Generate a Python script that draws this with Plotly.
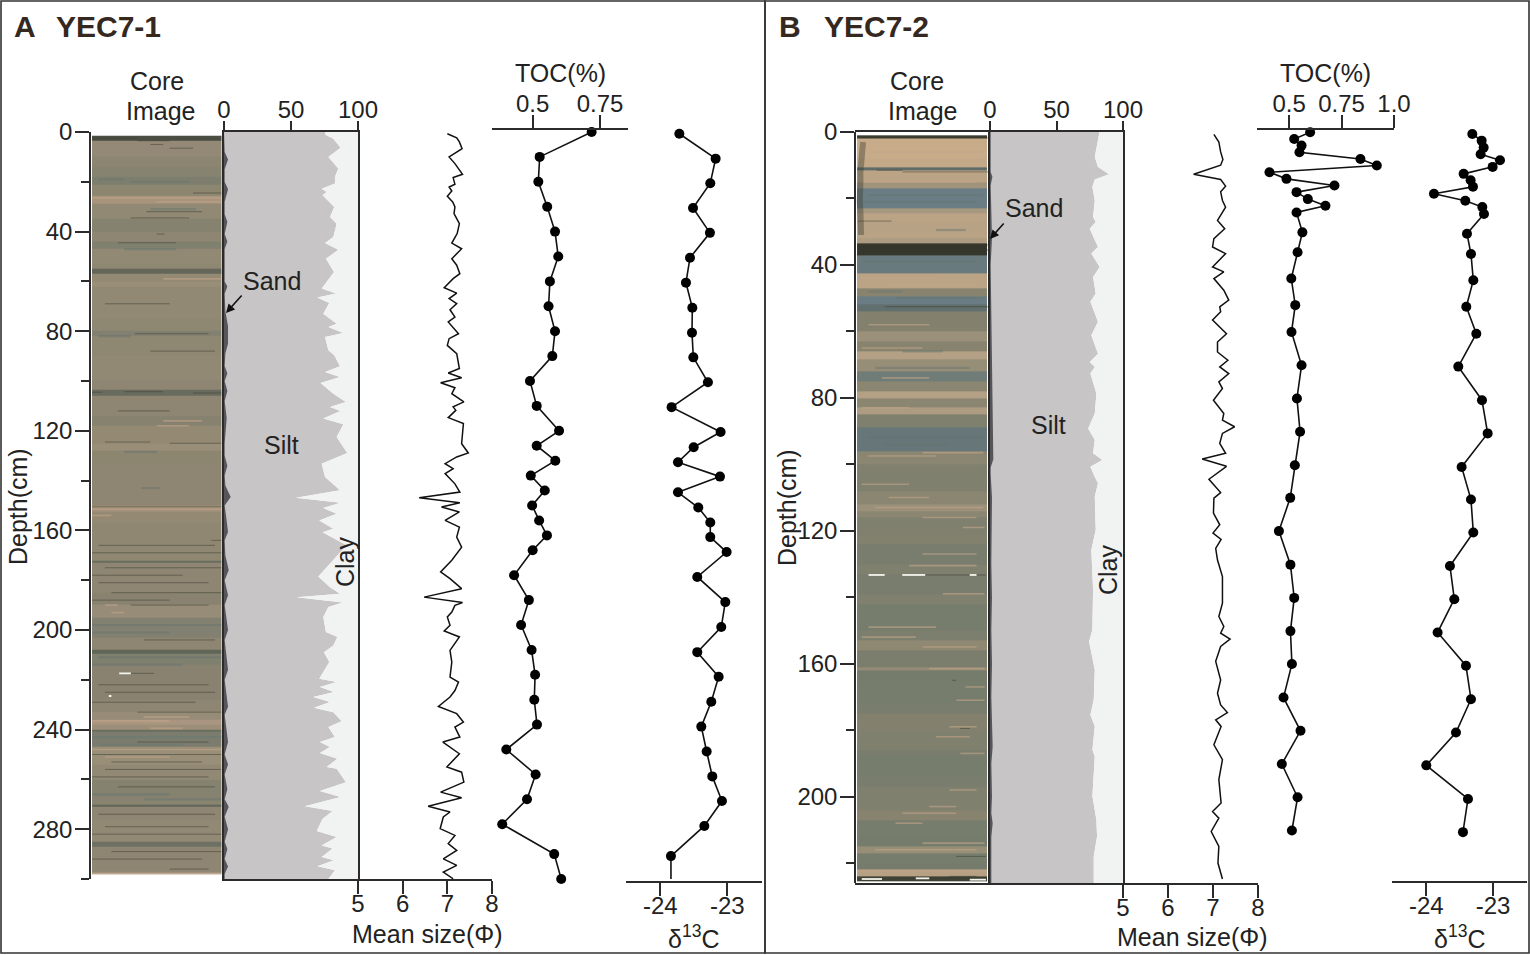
import plotly.graph_objects as go

W, H = 1530, 955
FONT = "Liberation Sans, Arial, sans-serif"
INK = "#222222"
LINE = "#2b2b2b"
SILT = "#c8c5c6"
CLAY = "#f1f2f2"
SAND = "#55555a"

# ---------- Panel A (YEC7-1) ----------
a_toc_depth = [0,10,20,30,40,50,60,70,80,90,100,110,120,126,132,138,144,150,156,162,168,178,188,198,208,218,228,238,248,258,268,278,290,300]
a_toc = [.719,.526,.521,.554,.583,.595,.564,.559,.583,.573,.490,.515,.598,.515,.584,.493,.545,.498,.524,.553,.50,.431,.486,.457,.496,.509,.506,.516,.402,.511,.479,.387,.580,.606]

a_d13c_depth = [.7,10.7,20.6,30.5,40.5,50.5,60.5,70.6,80.6,90.5,100.5,110.5,120.5,126.6,132.6,138.4,144.7,150.8,156.8,162.7,168.7,178.7,188.8,198.8,208.9,218.8,228.8,238.8,248.8,258.8,268.7,278.7,290.8,300.8]
a_d13c = [-23.716,-23.174,-23.254,-23.512,-23.259,-23.557,-23.617,-23.522,-23.527,-23.507,-23.289,-23.831,-23.1,-23.502,-23.736,-23.109,-23.736,-23.433,-23.254,-23.254,-23.01,-23.448,-23.03,-23.09,-23.448,-23.129,-23.239,-23.388,-23.308,-23.224,-23.08,-23.343,-23.841,-23.841]

a_mean_depth = [.7,2.3,4,6.7,10,12.7,17,18.3,21,22.1,23.7,25.8,28.1,30.1,32.8,36.8,40.8,44.6,46.9,50.9,53.5,56.9,58.9,62.5,64.7,66.9,68.9,71.4,74.3,76.3,81,83,85.7,89,95,96.8,98.7,100.7,102.7,105.1,108.4,110.4,111.8,114.7,117.1,125.2,128.9,130.5,133.2,135.2,
                137.2,141.3,144.6,146.9,148.9,150.6,152.6,156,158.7,162.7,166.7,172,176.7,179.4,183.4,186.8,189,190.1,192.8,194.8,198.1,200.4,202.8,208.2,212.9,218.9,220.9,224.3,226.9,230.7,233.6,237,239,243,245,249.7,255,257.1,261.1,265.1,267.4,270.8,273.1,275.1,279.8,282.5,285.8,288.5,291.9,294.5,297.2,299.9]
a_mean = [7,7.21,7.27,7.33,7.04,7.17,7.34,7.13,7.17,7.04,7.1,7,7.12,7.17,7.15,7.27,7.22,7.1,7.32,7.1,7.21,7.28,7.13,6.93,7.21,7.04,7.21,7.06,7.17,7.02,7.25,7.04,7,7.21,7.27,7.02,7.32,6.85,7.17,7.1,7.37,7.13,7.19,7.02,7.36,7.32,7.47,7.21,6.95,7.13,
          6.95,7.17,7.28,6.37,7.28,6.87,7.27,6.95,7.27,7.21,7.32,7.1,6.85,7.06,7.32,6.48,7.34,7.17,7.1,7,7.06,6.93,7.27,7.06,7.1,7.06,7.25,7.17,7.06,6.8,7.21,7.36,7.17,7.28,6.9,7.27,6.99,7.32,7.37,6.85,7.32,6.57,7.06,6.91,6.84,7.17,7.02,7.21,6.91,7.21,6.91,7.13]

a_silt_depth = [0,1,2.7,6.3,10,14.7,18,20.7,22.8,24.1,25.4,30.1,34.1,36.8,42.2,44.6,47.3,50.9,56.2,62.9,64.9,66.5,68.7,73,77,78.3,80.7,82.3,87.7,89.7,94.1,96.4,98.4,100.8,105.1,108.4,110.4,112,115.1,117.4,122.5,128.9,133.2,138.6,
                143.9,146.9,148.9,151,153.3,156,159.3,160.7,166,172,178.5,182.8,185.4,186.8,189,190.8,194.8,200.8,202.8,206.2,208.9,212.9,219.6,220.9,222.9,224.9,226.9,228.9,231.2,233,236.6,239,243,245,247,249.4,251.7,255,255.7,261.1,264.7,267.1,270.8,272.7,275.8,280.7,283.1,286.5,287.8,291.2,292.5,294.9,296.5,300]
a_silt = [75.4,75.4,81.6,87,77.9,85.3,82.8,82.8,72.9,76.6,73.6,82.3,79.1,84.1,81.6,75.4,85.3,76.1,82.1,72.9,83.6,69.7,78.6,74.1,84.1,77.9,89.1,75.4,77.9,82.3,86.6,75.4,86.6,72.1,81.6,91,79.1,87,74.1,89.1,84.1,92,72.9,75.4,
          86.6,53.7,87,74.1,84.1,71.1,81.6,73.6,91.5,81.6,70.4,79.1,86.6,54.2,88.6,77.9,74.1,76.1,84.6,81.6,74.6,78.6,71.1,84.1,71.6,82.1,66.7,79.1,67.2,81.6,87.8,77.9,82.8,71.6,79.1,71.6,84.6,76.6,84.1,91,71.6,87,60.4,81.1,73.6,69.2,84.1,72.9,81.1,72.9,82.1,69.7,82.8,77.9]

a_sand_depth = [0,8,11,15,20,23,28,33,36,41,44,47,60,62,65,72,78,85,89,94,97,100,104,108,115,125,130,134,138,142,146.6,150,154,160.6,164,170,176,180,186,190,200,204,216,220,230.8,234,245,250,254,258,264,268,271,275,280,285,288,292,295,298,300]
a_sand = [0,.5,3,.5,.5,3,.5,.5,2.5,.5,2.5,.5,.5,2.5,.5,1,3,3,1,.5,2.5,.5,2.5,.5,2,.5,.5,2.5,.5,1,5,.5,1.5,3,.5,1,3.5,.5,3,.5,3,.5,3,.5,3,.5,3,.5,3,.5,2.5,.5,3.5,.5,3,.5,2.5,.5,3,.5,.5]

a_core_edges = [1.5,3.5,10,14,18,21,25.5,29,35,40,44,47,53,55,57,60,62,75,80,82,90,100,103.5,106,114,118,125,128,133,150,151,152.5,157,172,173,185,190,195,203,208,209.5,214,222,228,233,236,238,240,241,247,254,260,267,270,271,276,285,287,297,298]
a_core_tone = [.18,.66,.6,.56,.5,.6,.82,.66,.56,.62,.52,.66,.63,.34,.68,.72,.66,.63,.54,.63,.66,.62,.37,.62,.57,.68,.72,.6,.62,.84,.78,.68,.64,.38,.62,.58,.7,.54,.62,.32,.52,.58,.58,.62,.7,.84,.74,.38,.5,.72,.66,.56,.58,.32,.62,.65,.4,.62,.76]

a_dark_streaks = [(2.5,1,35),(3.5,35,60),(5,45,55),(6.5,60,78),(24.5,78,100),(32,42,85),(34.5,30,75),(41,50,56),(44.5,20,65),(69,10,60),(81,33,90),(88,45,95),(104.5,0,8),(104.3,25,55),(104.8,78,100),(112,20,60),(124.5,10,45),(125,60,100),
                  (150.5,0,100),(164,92,100),(166,5,95),(169,0,100),(175,10,100),(178,0,70),(181,5,90),(185,15,100),(188,0,60),(190,30,90),(204,40,95),(217.4,30,48),(222,5,90),(225,10,95),(229,0,80),(233,35,100),(245,35,90),(250,0,100),(253,15,85),(256,10,100),(259,0,90),(263,20,95),(274,5,95),(279,10,90),(282,0,100),(289,15,100),(292,0,85),(296,60,90)]
a_green_streaks = [(20,30,75),(19,5,25),(31,45,80),(47,25,65),(82,5,30),(128.5,25,50),(143,38,52),(198,0,100),(201,0,60),(211,5,100),(214,0,70),(243,0,100),(246,5,70),(266,0,60),(268,40,100)]
a_tan_streaks = [(26.5,0,100),(28,50,100),(59,55,100),(116,55,85),(118,50,75),(151.5,0,100),(154,0,15),(190,10,20),(193,15,25),(235,40,75),(236.5,0,60),(239.5,45,70),(248,0,100),(251,10,60),(298,0,100)]
a_white_streaks = [(217.4,21,30),(226.5,13,15)]

# ---------- Panel B (YEC7-2) ----------
b_toc_depth = [.1,2.1,4.1,6.1,8.1,10.1,12.1,14.1,16.1,18.1,20.2,22.2,24.2,30.2,36.2,44.1,52.1,60.2,70.2,80.2,90.2,100.3,110.1,120.1,130.2,140.2,150.2,160.1,170.2,180.2,190.2,200.2,210.2]
b_toc = [.60,.524,.559,.549,.84,.918,.406,.487,.716,.535,.589,.673,.535,.563,.54,.51,.529,.511,.559,.537,.552,.527,.505,.451,.506,.524,.506,.513,.473,.554,.465,.54,.513]

b_d13c_depth = [.6,2.6,4.7,6.7,8.5,10.5,12.6,14.5,16.5,18.6,20.7,22.6,24.7,30.6,36.7,44.6,52.6,60.7,70.6,80.7,90.7,100.8,110.6,120.5,130.6,140.6,150.6,160.6,170.7,180.7,190.6,200.7,210.7]
b_d13c = [-23.31,-23.17,-23.14,-23.185,-22.895,-23.005,-23.44,-23.335,-23.3,-23.885,-23.415,-23.16,-23.135,-23.39,-23.33,-23.295,-23.4,-23.25,-23.52,-23.165,-23.08,-23.47,-23.33,-23.295,-23.645,-23.58,-23.83,-23.405,-23.33,-23.555,-24.0,-23.375,-23.45]

b_mean_depth = [.7,3,6,8.3,10,12.7,14.3,16.3,18,20.6,22.6,26.6,29.1,32.1,34.6,36.6,40.6,42.1,44.1,47.6,50.6,52.6,54.1,56.6,60.7,63.2,66.2,68.7,70.7,72.7,75.2,77.2,80.7,84.7,86.7,88.7,90.7,93.7,96.7,98.4,100.6,104.5,
                108.5,110.2,114.7,118.2,120.7,122.6,125.3,128.8,133.8,141.8,145.8,148.8,150.8,152.6,154.8,159.3,164.9,168.9,172.4,174.7,176.9,178.9,184.4,188.9,194.9,201.9,204.5,206.5,210.5,215,220,224.8]
b_mean = [7.02,7.13,7.17,7.22,7.17,6.57,7.17,7.28,7.17,7.21,7.28,7.1,7.26,7.02,6.99,7.28,6.99,7.24,7.02,7.24,7.35,7.15,7.17,6.99,7.3,7.1,7.1,7.33,7.15,7.35,7.13,7.21,7.01,7.24,7.21,7.48,7.21,7.15,7.28,6.76,7.3,6.91,
          7.17,7.02,7.01,7.15,7,7.18,7.06,7.1,7.21,7.21,7.13,7.24,7.17,7.38,7.17,7.06,7.17,7.1,7.17,7.32,7.06,7.18,7.02,7.21,7.13,7.18,6.99,7.13,6.96,7.13,7.11,7.21]

b_silt_depth = [0,.7,7.5,10.5,12.7,14.3,16.5,20.6,25.6,27.1,29.1,34.6,36.6,40.6,43.6,48.6,51.1,57.1,61.2,66.7,69.2,70.7,72.7,78.7,84.7,89.2,92.7,96.7,98.7,100.7,103.8,105.7,109.7,119.7,125.8,137.8,149.8,153.3,161.9,170.9,175.4,178.9,185.9,187.9,199.9,207,212,218,226]
b_silt = [82,82,78.8,81.2,89.5,78.8,77,78.8,77.5,79.5,75,81.2,76.2,82.5,77.5,79.5,75.5,81.2,76.2,81.2,75,78.8,75.5,80,78.8,73.8,78.8,77.5,84.5,75.5,78.8,81.2,78.8,79.5,76.2,77.5,77,74.5,78.8,78,75.5,78.8,77,78.8,77,80,80.5,78,78]

b_sand_depth = [0,12,13.5,16,24,32,40,60,72,98.5,101,103,110,120,130,140,150,160,170,185,190,200,205,208,212,226]
b_sand = [.5,.5,1.8,.5,1,1.5,.5,1.2,1.2,2.5,.5,.5,1.5,1,1,1.5,1,1.5,1,2,1,1.5,1,2,1,1]

b_core_edges = [1,2,8,10.5,11.5,15,17,23,24.5,27,32,33.5,37,42.6,47,49.5,52,54,60,63,66,68.5,72,75,78,80,83,85,89,96,100,108,112,114,116,121,124,130,133,139,142,150,153,156,161,162,165,172,175,180,186,188,194,197,204,207,212,215,217,220,222,224,225.5]
b_core_tone = [.08,.96,.93,.3,.88,.72,.4,.76,.88,.86,.8,.06,.38,.88,.6,.4,.32,.58,.7,.6,.84,.68,.45,.62,.84,.62,.8,.56,.36,.62,.56,.62,.7,.62,.56,.57,.53,.56,.53,.56,.52,.55,.64,.54,.66,.51,.52,.53,.58,.56,.53,.52,.53,.56,.6,.52,.51,.68,.52,.51,.85,.1]

b_dark_streaks = [(1.8,2,100),(11.5,16,35),(12,35,100),(26.8,2,27),(34,2,100),(35.5,2,100),(36.5,5,95),(52.6,22,100),(133.3,52,85),(133.3,90,97),(165,72,75),(179.5,78,85),(218,75,97),(224.5,30,97),(224,70,90)]
b_edge_depth = [3,6,9,12,15,18,21,24,28,31]
b_edge_x = [6,5,4.5,4,4,3.5,3.5,4,4.5,4.5]
b_blue_streaks = [(29.5,60,82),(48,10,35),(50,30,95),(66,35,65),(71,15,85),(92,10,95),(94,20,70),(19,10,95),(21,5,90),(39,5,90)]
b_tan_streaks = [(6,10,95),(15,5,90),(31,10,95),(44,5,60),(46,20,90),(58,10,55),(65,5,50),(74,20,55),(83,5,40),(96.5,50,95),(97.5,10,60),(106,5,40),(110,25,55),(113,15,95),(116,50,90),(119,80,96),(127,50,90),(130.5,40,90),(139,65,96),(149,10,60),(152,5,45),(155,50,90),(161.5,55,96),(167,82,96),(171,75,96),(179,70,90),(182,60,85),(187,78,96),(198,70,90),(203,55,75),(205,35,75),(208,30,50),(214,50,96),(216,15,90),(222.5,2,97)]
b_white_streaks = [(133.3,10,22),(133.3,35,52),(133.3,85,90),(224.8,5,20),(224.6,45,55),(225,85,97)]

# colour ramps for the two core photographs
core_scale_a = [[0,"#2c2c22"],[.3,"#5f6457"],[.5,"#7e7f70"],[.6,"#8c8572"],[.7,"#978c78"],[.9,"#b49c84"],[1,"#c2a68c"]]
core_scale_b = [[0,"#24241a"],[.15,"#4f5144"],[.3,"#5f6c68"],[.4,"#6b7d84"],[.5,"#737b6c"],[.6,"#87836f"],[.75,"#a5977f"],[1,"#cfb08c"]]

# ---------- Layout geometry ----------
def dom(p0, p1):
    return [p0 / W, p1 / W]
def ydom(top, bottom):
    return [1 - bottom / H, 1 - top / H]
def ypos(p):
    return 1 - p / H

ax_font = dict(family=FONT, size=24, color=INK)
line = dict(showline=True, linecolor=LINE, linewidth=1.5, showgrid=False, zeroline=False, tickcolor=LINE, tickwidth=1.5, tickfont=ax_font, automargin=False)

fig = go.Figure()

def streaks(pts, color, width, xa, ya, opacity=.85):
    xs, ys = [], []
    for d, x0, x1 in pts:
        xs += [x0, x1, None]
        ys += [d, d, None]
    fig.add_trace(go.Scatter(x=xs, y=ys, mode="lines", line=dict(color=color, width=width), opacity=opacity, xaxis=xa, yaxis=ya, hoverinfo="skip", showlegend=False))

def panel(scale, core_e, core_t, core_x, dark, mid, tan, white, silt_d, silt, sand_d, sand, mean_d, mean, toc_d, toc, d_d, d13, ax):
    xc, xs, xm, xt, xd = ax
    fig.add_trace(go.Heatmap(x=core_x, y=core_e, z=[[t] for t in core_t], colorscale=scale, zmin=0, zmax=1, showscale=False, xaxis=xc, yaxis=ya_depth, hoverinfo="skip"))
    streaks(mid, "#65756f", 2.2, xc, ya_depth, .45)
    streaks(tan, "#c2a488", 1.6, xc, ya_depth, .6)
    streaks(dark, "#3a3c30", 1.0, xc, ya_depth, .5)
    streaks(white, "#f4f4ee", 1.8, xc, ya_depth, 1)
    fig.add_trace(go.Scatter(x=silt, y=silt_d, mode="lines", line=dict(width=0, color=SILT), fill="tozerox", fillcolor=SILT, xaxis=xs, yaxis=ya_box, hoverinfo="skip", showlegend=False))
    fig.add_trace(go.Scatter(x=[100] * len(silt_d), y=silt_d, mode="lines", line=dict(width=0, color=CLAY), fill="tonextx", fillcolor=CLAY, xaxis=xs, yaxis=ya_box, hoverinfo="skip", showlegend=False))
    fig.add_trace(go.Scatter(x=sand, y=sand_d, mode="lines", line=dict(width=0, color=SAND), fill="tozerox", fillcolor=SAND, xaxis=xs, yaxis=ya_box, hoverinfo="skip", showlegend=False))
    fig.add_trace(go.Scatter(x=mean, y=mean_d, mode="lines", line=dict(color="#111111", width=1.5), xaxis=xm, yaxis=ya_depth, hoverinfo="skip", showlegend=False, cliponaxis=False))
    for vals, dep, xa in ((toc, toc_d, xt), (d13, d_d, xd)):
        fig.add_trace(go.Scatter(x=vals, y=dep, mode="lines+markers", line=dict(color="#111111", width=1.6), marker=dict(color="#000000", size=10), xaxis=xa, yaxis=ya_depth, hoverinfo="skip", showlegend=False, cliponaxis=False))

ya_depth, ya_box = "y", "y2"
panel(core_scale_a, a_core_edges, a_core_tone, [0, 100], a_dark_streaks, a_green_streaks, a_tan_streaks, a_white_streaks,
      a_silt_depth, a_silt, a_sand_depth, a_sand, a_mean_depth, a_mean, a_toc_depth, a_toc, a_d13c_depth, a_d13c, ("x", "x2", "x3", "x4", "x5"))
ya_depth, ya_box = "y3", "y4"
panel(core_scale_b, b_core_edges, b_core_tone, [1.5, 97.5], b_dark_streaks, b_blue_streaks, b_tan_streaks, b_white_streaks,
      b_silt_depth, b_silt, b_sand_depth, b_sand, b_mean_depth, b_mean, b_toc_depth, b_toc, b_d13c_depth, b_d13c, ("x6", "x7", "x8", "x9", "x10"))
fig.add_trace(go.Scatter(x=b_edge_x, y=b_edge_depth, mode="lines", line=dict(color="#3a3c30", width=6), opacity=.4, xaxis="x6", yaxis="y3", hoverinfo="skip", showlegend=False))

ya = ydom(132, 879)
yb = ydom(132, 883)
hide = dict(showline=False, showticklabels=False, ticks="", showgrid=False, zeroline=False, automargin=False)

def depth_axis(rng, dom_, xpos, vals):
    return dict(line, domain=dom_, range=rng, anchor="free", position=xpos / W, side="left", ticks="outside", ticklen=14, ticklabelstandoff=-2,
                tickmode="array", tickvals=vals, ticktext=[str(v) for v in vals],
                minor=dict(tickmode="array", tickvals=[v + 20 for v in vals], ticks="outside", ticklen=8, tickcolor=LINE, tickwidth=1.5))
def box_y(rng, dom_, anchor):
    return dict(domain=dom_, range=rng, anchor=anchor, showline=True, linecolor=LINE, linewidth=1.5, mirror=True, ticks="", showticklabels=False, showgrid=False, zeroline=False, automargin=False)
def comp_x(px, anchor):
    return dict(line, domain=dom(*px), range=[0, 100], anchor=anchor, side="top", ticks="outside", ticklen=9, mirror=True, ticklabelstandoff=-6,
                tickmode="array", tickvals=[0, 50, 100], ticktext=["0", "50", "100"])
def free_x(px, rng, y, side, vals, labels, standoff):
    return dict(line, domain=dom(*px), range=rng, anchor="free", position=ypos(y), side=side, ticks="outside", ticklen=13, ticklabelstandoff=standoff,
                tickmode="array", tickvals=vals, ticktext=labels)

layout = dict(
    width=W, height=H, margin=dict(l=0, r=0, t=0, b=0), paper_bgcolor="white", plot_bgcolor="white", showlegend=False, autosize=False,
    xaxis=dict(hide, domain=dom(92, 221.5), range=[0, 100], anchor="y"),
    xaxis2=comp_x((224, 358), "y2"),
    xaxis3=free_x((358, 492), [5, 8], 880, "bottom", [5, 6, 7, 8], ["5", "6", "7", "8"], -11),
    xaxis4=free_x((492, 628), [.349, .854], 129, "top", [.5, .75], ["0.5", "0.75"], -6),
    xaxis5=free_x((626, 762), [-24.512, -22.482], 882, "bottom", [-24, -23], ["-24", "-23"], -11),
    xaxis6=dict(line, domain=dom(855, 990), range=[0, 100], anchor="y3", ticks="", showticklabels=False, mirror=True),
    xaxis7=comp_x((990, 1123), "y4"),
    xaxis8=free_x((1123, 1258), [5, 8], 884, "bottom", [5, 6, 7, 8], ["5", "6", "7", "8"], -11),
    xaxis9=free_x((1257, 1394), [.3465, 1.0], 129, "top", [.5, .75, 1.0], ["0.5", "0.75", "1.0"], -6),
    xaxis10=free_x((1392, 1527), [-24.514, -22.49], 882, "bottom", [-24, -23], ["-24", "-23"], -11),
    yaxis=depth_axis([300, 0], ya, 90, [0, 40, 80, 120, 160, 200, 240, 280]),
    yaxis2=box_y([300, 0], ya, "x2"),
    yaxis3=depth_axis([226, 0], yb, 855, [0, 40, 80, 120, 160, 200]),
    yaxis4=box_y([226, 0], yb, "x7"),
)
fig.update_layout(**layout)

# ---------- Text ----------
def txt(s, x, y, size=25, bold=False, color=INK, angle=0):
    fig.add_annotation(text=f"<b>{s}</b>" if bold else s, x=x / W, y=ypos(y), xref="paper", yref="paper", showarrow=False, xanchor="center", yanchor="middle",
                       font=dict(family=FONT, size=size, color=color), textangle=angle)

TITLE = "#35281e"
txt("A", 25, 26, 30, True, TITLE); txt("YEC7-1", 108, 26, 30, True, TITLE)
txt("B", 790, 26, 30, True, TITLE); txt("YEC7-2", 877, 26, 30, True, TITLE)
for s, x, y in (("Core", 157, 81), ("Image", 160, 111), ("Core", 917, 81), ("Image", 922, 111), ("TOC(%)", 560, 73), ("TOC(%)", 1325, 73),
                ("Mean size(Φ)", 427, 934), ("Mean size(Φ)", 1192, 937), ("δ<sup>13</sup>C", 693, 937), ("δ<sup>13</sup>C", 1459, 937),
                ("Sand", 272, 281), ("Silt", 281, 445), ("Sand", 1034, 208), ("Silt", 1048, 425)):
    txt(s, x, y)
txt("Clay", 345, 562, angle=-90); txt("Clay", 1108, 570, angle=-90)
txt("Depth(cm)", 18, 507, angle=-90); txt("Depth(cm)", 787, 507, angle=-90)

for hx, hy, dx, dy in ((226, 313, 17, -19), (990, 239, 15, -17)):
    fig.add_annotation(x=hx / W, y=ypos(hy), xref="paper", yref="paper", text="", showarrow=True, ax=dx, ay=dy, axref="pixel", ayref="pixel",
                       arrowhead=2, arrowsize=1.1, arrowwidth=1.6, arrowcolor="#111111")

# panel frames
for x0, x1 in ((1, 765), (765, 1529)):
    fig.add_shape(type="rect", xref="paper", yref="paper", x0=x0 / W, x1=x1 / W, y0=ypos(953), y1=ypos(1), line=dict(color="#333333", width=1.6), fillcolor="rgba(0,0,0,0)", layer="above")

fig.write_html("out.html", config={"displayModeBar": False}, post_script="document.body.style.margin='0';document.documentElement.style.overflow='hidden';")
